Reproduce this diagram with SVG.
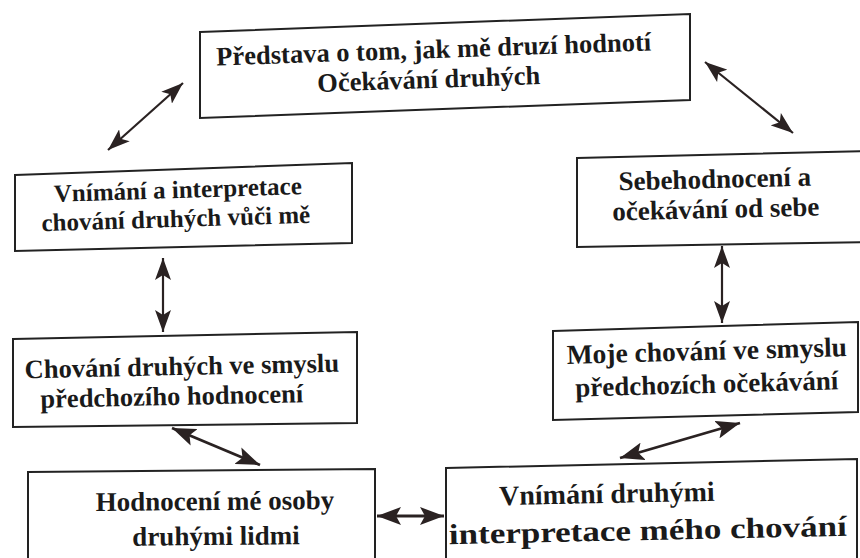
<svg xmlns="http://www.w3.org/2000/svg" width="860" height="558" viewBox="0 0 860 558">
<style>
.box{fill:#ffffff;stroke:#222;stroke-width:2}
.t{font-family:"Liberation Serif","Times New Roman",serif;font-weight:bold;fill:#1a1a1a;text-anchor:middle}
.c{fill:none;stroke:#2a2222;stroke-width:2.2;marker-start:url(#ah);marker-end:url(#ah)}
.cb{stroke-width:2.8;marker-start:url(#ahb);marker-end:url(#ahb)}
</style>
<defs>
<marker id="ah" markerUnits="userSpaceOnUse" markerWidth="24" markerHeight="16" refX="22" refY="8" orient="auto-start-reverse">
<path d="M0,0 L22,8 L0,16 L5,8 z" fill="#2a2222"/>
</marker>
<marker id="ahb" markerUnits="userSpaceOnUse" markerWidth="26" markerHeight="18" refX="24" refY="9" orient="auto-start-reverse">
<path d="M0,0 L24,9 L0,18 L5,9 z" fill="#2a2222"/>
</marker>
</defs>
<rect width="860" height="558" fill="#ffffff"/>
<g id="n1">
<polygon class="box" points="200,32 690,14 690,100 200,118"/>
<text class="t" font-size="26.5" transform="translate(434,58) rotate(-2)">Představa o tom, jak mě druzí hodnotí</text>
<text class="t" font-size="26.5" transform="translate(429,88) rotate(-2)">Očekávání druhých</text>
</g>
<g id="n2">
<polygon class="box" points="15,175 352,163 352,243 15,251"/>
<text class="t" font-size="25" transform="translate(178,198) rotate(-1.8)">Vnímání a interpretace</text>
<text class="t" font-size="25" transform="translate(176,227) rotate(-1.8)">chování druhých vůči mě</text>
</g>
<g id="n3">
<polygon class="box" points="577,158 870,151 870,242 577,247"/>
<text class="t" font-size="27" transform="translate(715,188) rotate(-1.4)">Sebehodnocení a</text>
<text class="t" font-size="27" transform="translate(716,218) rotate(-1.4)">očekávání od sebe</text>
</g>
<g id="n4">
<polygon class="box" points="13,339 357,332 357,423 13,427"/>
<text class="t" font-size="26.5" transform="translate(182,375) rotate(-1.2)">Chování druhých ve smyslu</text>
<text class="t" font-size="26.5" transform="translate(172,405) rotate(-1.2)">předchozího hodnocení</text>
</g>
<g id="n5">
<polygon class="box" points="553,331 858,322 858,412 553,420"/>
<text class="t" font-size="27.5" transform="translate(707,360) rotate(-1.6)">Moje chování ve smyslu</text>
<text class="t" font-size="27" transform="translate(707,393) rotate(-1.6)">předchozích očekávání</text>
</g>
<g id="n6">
<polygon class="box" points="28,472 375,469 375,570 28,570"/>
<text class="t" font-size="27" transform="translate(215,510) rotate(-0.5)">Hodnocení mé osoby</text>
<text class="t" font-size="27" transform="translate(216,545) rotate(-0.5)">druhými lidmi</text>
</g>
<g id="n7">
<polygon class="box" points="446,468 857,459 857,570 446,570"/>
<text class="t" font-size="28" transform="translate(607,503) rotate(-1.2)">Vnímání druhými</text>
<text class="t" font-size="29" textLength="398" lengthAdjust="spacingAndGlyphs" transform="translate(648,540) rotate(-1.2)">interpretace mého chování</text>
</g>
<g id="connectors">
<line class="c" x1="108" y1="150" x2="183" y2="83"/>
<line class="c" x1="705" y1="62" x2="793" y2="133"/>
<line class="c" x1="163" y1="258" x2="163" y2="332"/>
<line class="c" x1="722" y1="246" x2="722" y2="323"/>
<line class="c cb" x1="172" y1="428" x2="260" y2="465"/>
<line class="c cb" x1="740" y1="423" x2="620" y2="458"/>
<line class="c cb" x1="377" y1="516" x2="444" y2="516"/>
</g>
</svg>
